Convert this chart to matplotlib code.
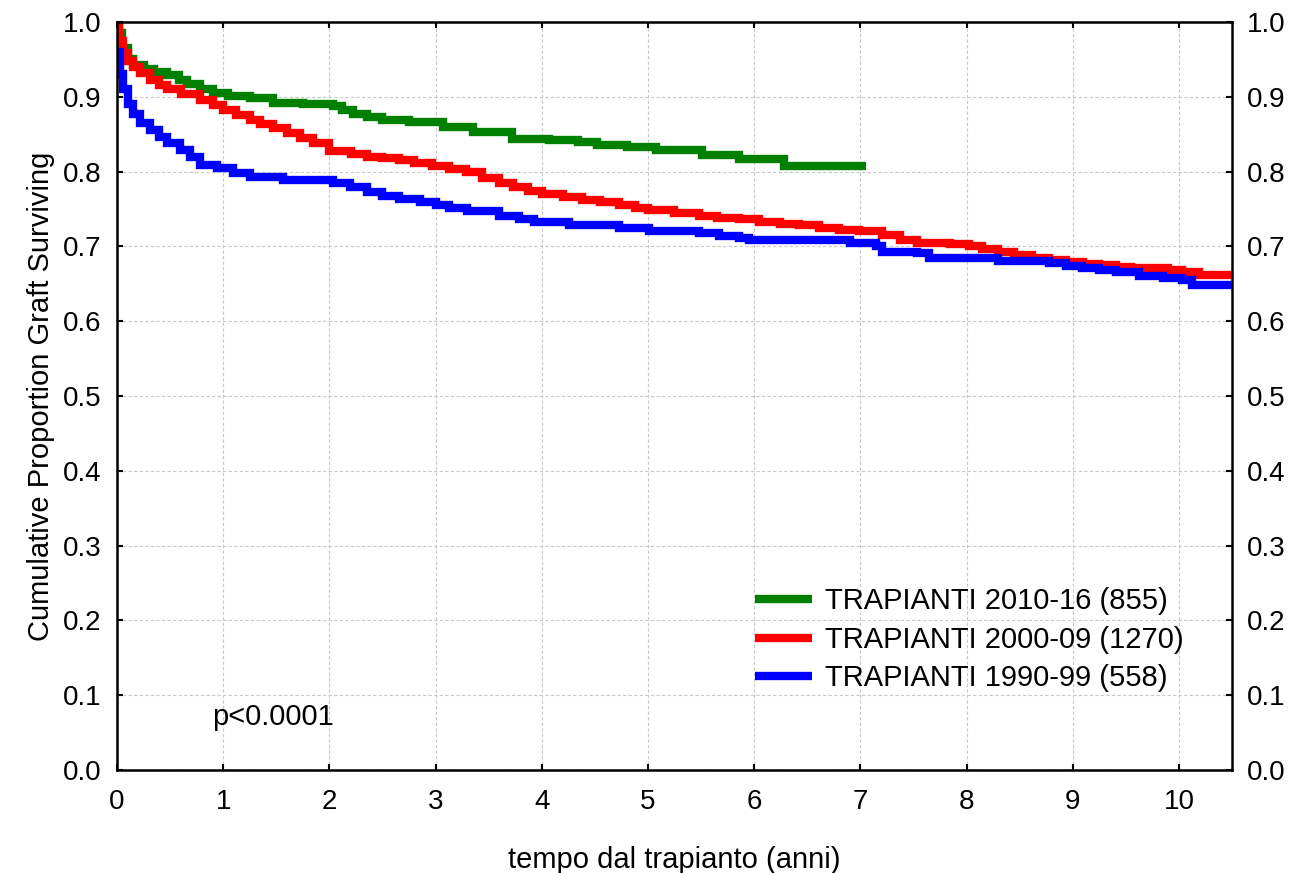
import matplotlib
matplotlib.use('Agg')
import matplotlib.pyplot as plt

plt.rcParams['font.family'] = ['Liberation Sans', 'DejaVu Sans']

# Kaplan-Meier step curves (years, proportion surviving)
green_t = [0, 0.02, 0.05, 0.1, 0.15, 0.25, 0.35, 0.47, 0.58, 0.66, 0.78, 0.9, 1.05, 1.25, 1.47,
           1.75, 2.03, 2.12, 2.22, 2.35, 2.5, 2.75, 3.07, 3.35, 3.72, 4.07, 4.34, 4.52, 4.8, 5.08,
           5.51, 5.86, 6.28, 7.05]
green_s = [1.0, 0.985, 0.965, 0.95, 0.943, 0.937, 0.933, 0.929, 0.922, 0.917, 0.911, 0.905, 0.901,
           0.898, 0.892, 0.89, 0.888, 0.882, 0.877, 0.873, 0.869, 0.866, 0.86, 0.853, 0.844, 0.842,
           0.839, 0.835, 0.833, 0.829, 0.822, 0.817, 0.807, 0.807]

red_t = [0, 0.02, 0.06, 0.1, 0.15, 0.22, 0.31, 0.4, 0.47, 0.6, 0.78, 0.9, 1.0, 1.12, 1.25, 1.35,
         1.47, 1.6, 1.72, 1.85, 2.0, 2.2, 2.35, 2.5, 2.66, 2.8, 2.97, 3.13, 3.29, 3.44, 3.6, 3.73,
         3.87, 4.0, 4.2, 4.38, 4.55, 4.73, 4.88, 5.0, 5.25, 5.48, 5.65, 5.86, 6.05, 6.24, 6.42,
         6.61, 6.8, 6.99, 7.2, 7.37, 7.53, 7.84, 8.02, 8.15, 8.3, 8.45, 8.62, 8.78, 8.94, 9.1,
         9.25, 9.41, 9.55, 9.72, 9.9, 10.03, 10.19, 10.5]
red_s = [1.0, 0.975, 0.958, 0.948, 0.94, 0.932, 0.923, 0.916, 0.911, 0.904, 0.896, 0.889, 0.882,
         0.876, 0.869, 0.864, 0.858, 0.851, 0.845, 0.838, 0.827, 0.823, 0.82, 0.818, 0.815, 0.812,
         0.808, 0.803, 0.799, 0.791, 0.785, 0.779, 0.774, 0.77, 0.766, 0.762, 0.759, 0.756, 0.752,
         0.749, 0.745, 0.741, 0.738, 0.736, 0.733, 0.73, 0.728, 0.725, 0.722, 0.72, 0.715, 0.709,
         0.705, 0.703, 0.7, 0.697, 0.693, 0.689, 0.685, 0.682, 0.679, 0.676, 0.675, 0.673, 0.671,
         0.671, 0.668, 0.666, 0.662, 0.662]

blue_t = [0, 0.03, 0.06, 0.1, 0.15, 0.22, 0.31, 0.4, 0.47, 0.59, 0.69, 0.78, 0.94, 1.09, 1.25,
          1.56, 1.88, 2.03, 2.19, 2.35, 2.5, 2.66, 2.85, 3.0, 3.13, 3.3, 3.6, 3.79, 3.93, 4.26,
          4.73, 5.01, 5.48, 5.67, 5.86, 5.95, 6.42, 6.9, 7.15, 7.2, 7.53, 7.65, 8.15, 8.3, 8.78,
          8.94, 9.09, 9.25, 9.41, 9.62, 9.85, 10.03, 10.12, 10.5]
blue_s = [0.96, 0.93, 0.91, 0.89, 0.877, 0.865, 0.855, 0.846, 0.838, 0.829, 0.82, 0.809, 0.805,
          0.798, 0.793, 0.789, 0.789, 0.785, 0.779, 0.773, 0.768, 0.764, 0.76, 0.755, 0.751,
          0.747, 0.741, 0.737, 0.733, 0.729, 0.724, 0.72, 0.718, 0.714, 0.711, 0.709, 0.708,
          0.705, 0.7, 0.693, 0.691, 0.685, 0.684, 0.68, 0.678, 0.674, 0.671, 0.669, 0.666,
          0.661, 0.658, 0.655, 0.648, 0.648]

labels = ['TRAPIANTI 2010-16 (855)', 'TRAPIANTI 2000-09 (1270)', 'TRAPIANTI 1990-99 (558)']
colors = ['#008000', '#ff0000', '#0000ff']

fig = plt.figure(figsize=(12.91, 8.73), dpi=100)
ax = fig.add_axes([0.0906, 0.118, 0.8637, 0.8568])

series = [(green_t, green_s), (red_t, red_s), (blue_t, blue_s)]
for (t, s), lab, col in zip(series, labels, colors):
    ax.plot(t, s, drawstyle='steps-post', color=col, lw=6, label=lab,
            solid_capstyle='butt', solid_joinstyle='miter')

ax.set_xlim(0, 10.5)
ax.set_ylim(0, 1.0)
ax.set_xticks(range(0, 11))
ax.set_yticks([i / 10 for i in range(11)])
ax.set_yticklabels(['%.1f' % (i / 10) for i in range(11)])
ax.grid(True, color='#c8c8c8', ls=(0, (3, 2)), lw=0.8)

for sp in ax.spines.values():
    sp.set_linewidth(1.8)
ax.tick_params(direction='in', top=True, right=True, labelright=True,
               length=4, width=1.5, labelsize=20)
ax.tick_params(axis='x', pad=14)
ax.tick_params(axis='y', pad=11)

ax.set_xlabel('tempo dal trapianto (anni)', fontsize=21, labelpad=22)
ax.set_ylabel('Cumulative Proportion Graft Surviving', fontsize=21, labelpad=6)

ax.text(0.9, 0.071, 'p<0.0001', fontsize=21, va='center', ha='left')

ax.legend(loc='upper left', bbox_to_anchor=(0.572, 0.244), frameon=False, fontsize=21,
          handlelength=1.97, handletextpad=0.45, labelspacing=0.36,
          borderaxespad=0, borderpad=0)

plt.savefig('out.png', dpi=100)
